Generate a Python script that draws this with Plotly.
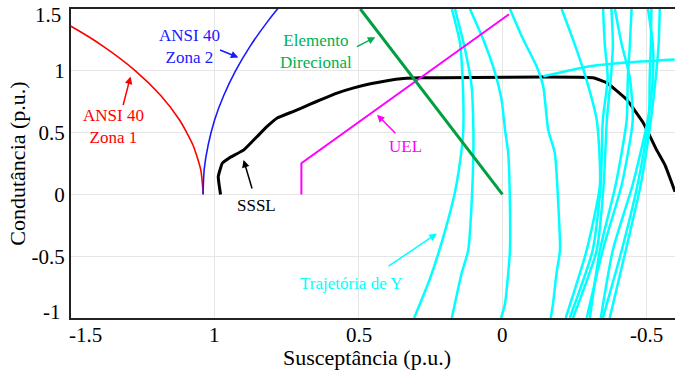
import plotly.graph_objects as go

# ---------------- data (B = susceptance, G = conductance) ----------------
# ANSI 40 Zona 1
z1_B = [1.040, 1.049, 1.076, 1.122, 1.188, 1.276, 1.389, 1.500, 1.573]
z1_G = [0.0, 0.2, 0.4, 0.6, 0.8, 1.0, 1.2, 1.36, 1.45]
# ANSI 40 Zona 2
z2_B = [1.041, 1.037, 1.023, 1.001, 0.969, 0.928, 0.877, 0.816, 0.782, 0.745]
z2_G = [0.0, 0.2, 0.4, 0.6, 0.8, 1.0, 1.2, 1.4, 1.5, 1.6]
# SSSL
sssl_B = [0.980, 0.988, 0.974, 0.951, 0.899, 0.853, 0.818, 0.783, 0.726, 0.668, 0.633,
          0.575, 0.520, 0.459, 0.401, 0.344, 0.286, -0.315, -0.363, -0.432, -0.490,
          -0.536, -0.565, -0.600]
sssl_G = [0.0, 0.143, 0.252, 0.293, 0.360, 0.468, 0.550, 0.618, 0.672, 0.730, 0.765,
          0.820, 0.860, 0.895, 0.920, 0.937, 0.943, 0.943, 0.902, 0.767, 0.577,
          0.360, 0.238, 0.021]
# UEL
uel_B = [0.699, 0.699, -0.023]
uel_G = [0.0, 0.252, 1.458]
# Elemento Direcional
dir_B = [0.0, 0.494]
dir_G = [0.0, 1.50]

# Trajetorias de Y
trajA_B = [0.176, 0.148, 0.138, 0.136, 0.142, 0.165, 0.207, 0.252, 0.307]
trajA_G = [1.50, 1.230, 0.905, 0.523, 0.360, 0.019, -0.356, -0.681, -1.0]
trajB_B = [0.165, 0.130, 0.107, 0.101, 0.101, 0.107, 0.119, 0.142, 0.176]
trajB_G = [1.50, 1.173, 0.872, 0.523, 0.336, -0.071, -0.453, -0.640, -1.0]
trajC_B = [0.113, 0.067, 0.026, 0.003, -0.009, -0.020, -0.026, -0.026, -0.020, -0.009, 0.005]
trajC_G = [1.50, 1.255, 0.986, 0.767, 0.523, 0.336, -0.071, -0.453, -0.640, -0.884, -1.0]
trajD_B = [-0.026, -0.072, -0.119, -0.142, -0.159, -0.182, -0.194, -0.200, -0.188, -0.176, -0.168]
trajD_G = [1.50, 1.255, 1.035, 0.872, 0.523, 0.336, -0.071, -0.453, -0.640, -0.884, -1.0]
trajH_B = [-0.142, -0.304, -0.419, -0.599]
trajH_G = [0.956, 1.037, 1.065, 1.092]

trajR_G = [1.50, 1.21, 0.945, 0.60, 0.08, -0.45, -1.0]
trajR1_B = [-0.206, -0.252, -0.290, -0.328, -0.339, -0.293, -0.220]
trajR2_B = [-0.350, -0.356, -0.366, -0.349, -0.342, -0.314, -0.234]
trajR3_B = [-0.379, -0.384, -0.377, -0.363, -0.352, -0.328, -0.245]
trajR4_B = [-0.391, -0.415, -0.443, -0.453, -0.415, -0.349, -0.293]
trajR5_B = [-0.449, -0.443, -0.436, -0.432, -0.394, -0.339, -0.304]
trajR6_B = [-0.506, -0.523, -0.523, -0.505, -0.453, -0.384, -0.342]
trajR7_B = [-0.518, -0.516, -0.512, -0.509, -0.470, -0.415, -0.349]
trajR8_B = [-0.547, -0.543, -0.533, -0.516, -0.481, -0.429, -0.373]

x_tickvals = [1, 0.5, 0, -0.5]
x_ticktext = ["1", "0.5", "0", "-0.5"]
x_edge_label = "-1.5"
y_tickvals = [1, 0.5, 0, -0.5]
y_ticktext = ["1", "0.5", "0", "-0.5"]
y_edge_labels = [("1.5", 1.5), ("-1", -1)]
x_title = "Susceptância (p.u.)"
y_title = "Condutância (p.u.)"

FONT = "Liberation Serif"
RED, BLUE, BLACK, MAG, GREEN, CYAN = "#ff0000", "#1a1aff", "#000000", "#ff00ff", "#00a040", "#00ffff"
GREEN_TXT = "#00b050"

fig = go.Figure()


def add(x, y, color, width, shape="spline", smoothing=0.6):
    fig.add_trace(go.Scatter(x=x, y=y, mode="lines", showlegend=False, hoverinfo="skip",
                             line=dict(color=color, width=width, shape=shape, smoothing=smoothing)))


add(sssl_B, sssl_G, BLACK, 3, "spline", 0.35)
for bx, gy in [(trajA_B, trajA_G), (trajB_B, trajB_G), (trajC_B, trajC_G), (trajD_B, trajD_G),
               (trajH_B, trajH_G)]:
    add(bx, gy, CYAN, 2.5)
for bx in [trajR1_B, trajR2_B, trajR3_B, trajR4_B, trajR5_B, trajR6_B, trajR7_B, trajR8_B]:
    add(bx, trajR_G, CYAN, 2.5)
add(z1_B, z1_G, RED, 1.6)
add(z2_B, z2_G, BLUE, 1.6)
add(uel_B, uel_G, MAG, 2, "linear")
add(dir_B, dir_G, GREEN, 3, "linear")

# labels: (text, x, y, color)
labels = [
    ("ANSI 40<br>Zona 1", 1.351, 0.547, RED),
    ("ANSI 40<br>Zona 2", 1.088, 1.198, BLUE),
    ("Elemento<br>Direcional", 0.647, 1.157, GREEN_TXT),
    ("SSSL", 0.855, -0.087, BLACK),
    ("UEL", 0.338, 0.385, MAG),
    ("Trajetória de Y", 0.525, -0.722, CYAN),
]
for t, x, y, c in labels:
    fig.add_annotation(x=x, y=y, text=t, showarrow=False, font=dict(family=FONT, size=17, color=c))

# arrows: (tip_x, tip_y, tail_x, tail_y, color)
arrows = [
    (1.293, 0.954, 1.320, 0.711, RED),
    (0.918, 1.108, 0.987, 1.173, BLUE),
    (0.442, 1.271, 0.511, 1.189, GREEN_TXT),
    (0.900, 0.279, 0.869, 0.035, BLACK),
    (0.436, 0.645, 0.367, 0.482, MAG),
    (0.228, -0.317, 0.401, -0.589, CYAN),
]
for x, y, ax, ay, c in arrows:
    fig.add_annotation(x=x, y=y, ax=ax, ay=ay, axref="x", ayref="y", text="", showarrow=True,
                       arrowhead=2, arrowsize=1, arrowwidth=1.5, arrowcolor=c)

TICKFONT = dict(family=FONT, size=21, color="black")
# x tick labels placed on the x scale
for v, t in zip(x_tickvals, x_ticktext):
    fig.add_annotation(xref="x", yref="paper", x=v, y=0, xanchor="center", yanchor="top",
                       yshift=-3, text=t, showarrow=False, font=TICKFONT)
fig.add_annotation(xref="paper", yref="paper", x=0, y=0, xanchor="left", yanchor="top",
                   xshift=-4, yshift=-3, text=x_edge_label, showarrow=False, font=TICKFONT)
for t, v in y_edge_labels:
    fig.add_annotation(xref="paper", yref="y", x=0, y=v, xanchor="right", yanchor="middle",
                       xshift=-8, yshift=(-6 if v > 0 else 6), text=t, showarrow=False,
                       font=TICKFONT)
# x-axis title
fig.add_annotation(xref="paper", yref="paper", x=0.5, y=0, xanchor="center", yanchor="top",
                   xshift=-6, yshift=-25, text=x_title, showarrow=False,
                   font=dict(family=FONT, size=22, color="black"))

GRID = "#e6e6e6"
fig.update_layout(
    width=675, height=370,
    margin=dict(l=71, r=0, t=9, b=52),
    paper_bgcolor="white", plot_bgcolor="white",
    font=dict(family=FONT, size=21, color="black"),
    xaxis=dict(range=[1.5, -0.6], tickvals=x_tickvals, showticklabels=False,
               showgrid=True, gridcolor=GRID, gridwidth=1, zeroline=False,
               showline=True, linecolor="#222222", linewidth=2, mirror=True, ticks=""),
    yaxis=dict(range=[-1, 1.5], tickvals=y_tickvals, ticktext=y_ticktext,
               showgrid=True, gridcolor=GRID, gridwidth=1, zeroline=False,
               showline=True, linecolor="#222222", linewidth=2,
               ticks="", title=dict(text=y_title, standoff=0, font=dict(size=22))),
)

fig.write_html("out.html")
